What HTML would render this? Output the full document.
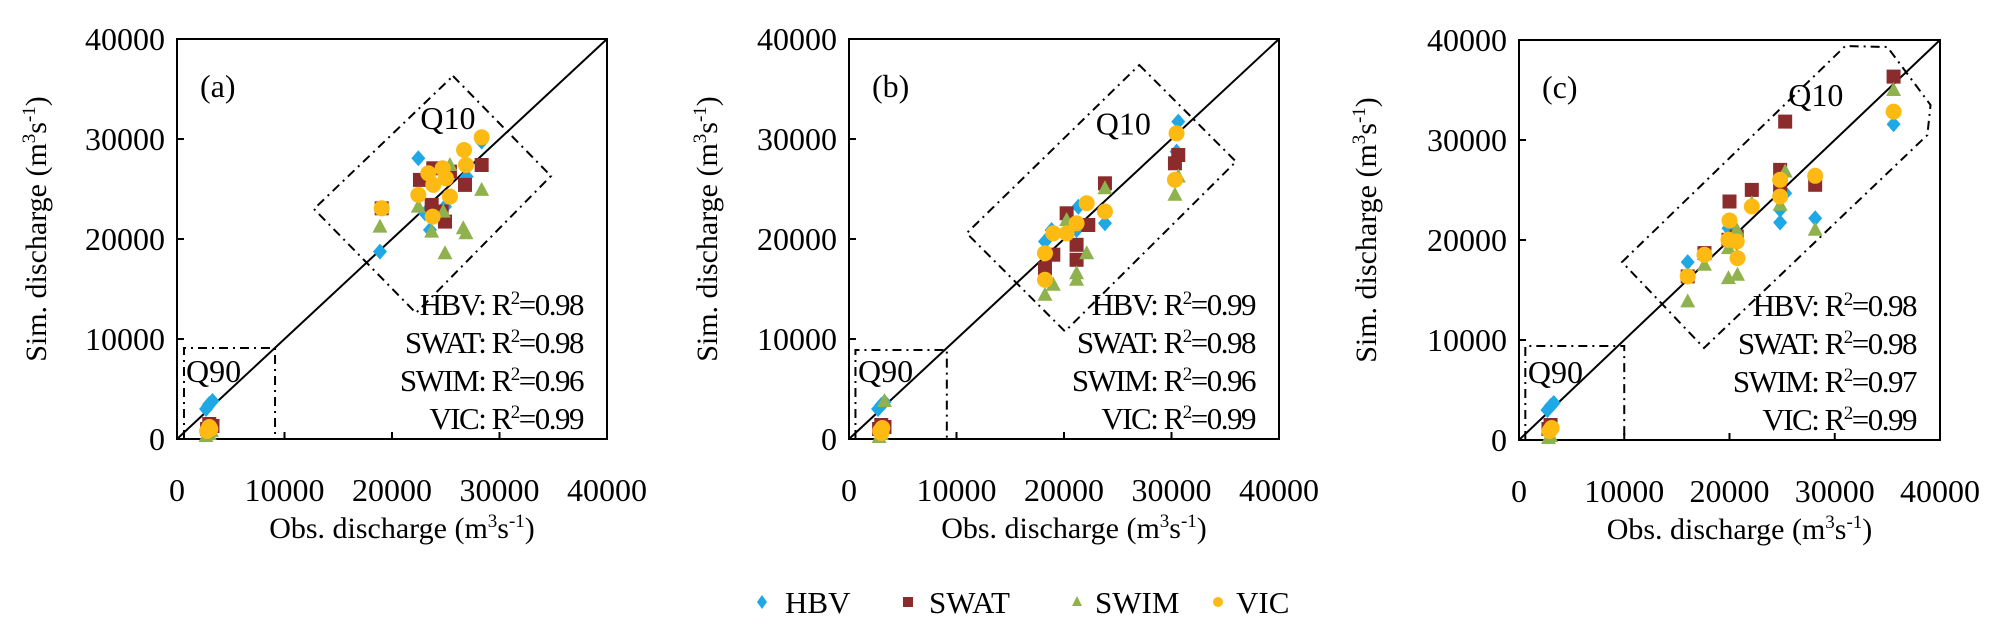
<!DOCTYPE html>
<html><head><meta charset="utf-8"><style>
html,body{margin:0;padding:0;background:#fff;}
svg{display:block;font-family:"Liberation Serif",serif;}
</style></head><body>
<svg id="fig" width="2005" height="634" viewBox="0 0 2005 634" xmlns="http://www.w3.org/2000/svg"></svg>
<script>
// ---- data ----
const axisTicks = [0, 10000, 20000, 30000, 40000];
const panelLetters = ["(a)", "(b)", "(c)"];
const r2HBV = ["0.98", "0.99", "0.98"];
const r2SWAT = ["0.98", "0.98", "0.98"];
const r2SWIM = ["0.96", "0.96", "0.97"];
const r2VIC = ["0.99", "0.99", "0.99"];

const hbvA = [[22450,28070],[28340,29740],[18880,18740],[26940,26240],[24930,23240],[23530,20910],[23070,22580],[2700,3000],[3000,3500],[3300,3800],[2900,3300]];
const swatA = [[19040,23070],[22600,25910],[23840,27070],[25390,26740],[26790,25410],[28340,27400],[23690,23410],[24930,21740],[24620,22740],[3000,1500],[2800,1000],[3300,1300]];
const swimA = [[18880,21240],[22450,23240],[23690,20740],[24770,22740],[24930,18580],[26630,21080],[26880,20580],[28340,24910],[25390,27400],[3000,500],[2700,300],[3200,800]];
const vicA = [[19040,23070],[22450,24410],[23380,26570],[24710,27070],[25020,26070],[23840,25410],[25390,24240],[23780,22240],[26700,28900],[28340,30170],[26880,27400],[2800,800],[3000,1200],[3100,1000]];

const hbvB = [[30630,31740],[30470,28740],[21330,23230],[23810,21570],[18230,19750],[18850,20900],[21170,20900],[2700,3000],[3000,3400],[3300,3700]];
const swatB = [[30630,28400],[30320,27570],[23810,25570],[20245,22570],[22260,21400],[21170,19420],[21170,17920],[19005,18430],[18230,17080],[3000,1400],[2800,1000],[3300,1200]];
const swimB = [[30630,26250],[30320,24420],[23810,25070],[20245,21900],[22110,18580],[21170,16580],[21170,15920],[19005,15420],[18230,14420],[3300,3800],[3000,500],[2800,200]];
const vicB = [[30470,30570],[30320,25920],[23810,22750],[22110,23580],[21170,21570],[20245,20570],[19005,20570],[18230,18580],[18230,15920],[2900,800],[3100,1100],[3000,600]];

const hbvC = [[35590,31580],[24810,23020],[24810,21750],[28140,22180],[19900,21180],[20690,19690],[16030,17790],[25290,24680],[2700,3000],[3000,3400],[3300,3700]];
const swatC = [[35590,36340],[25290,31840],[24810,27010],[24810,25350],[28140,25520],[22120,25010],[20000,23850],[20690,20350],[19900,20020],[17620,18690],[16030,16360],[3000,1500],[2800,1100]];
const swimC = [[35590,35000],[25290,26850],[24810,23520],[28140,21020],[22120,23680],[20690,21020],[19900,19190],[19900,16190],[20760,16520],[17620,17520],[16030,13860],[3000,400],[2800,200]];
const vicC = [[35590,32840],[24810,26020],[24810,24350],[28140,26420],[22120,23350],[20000,21950],[19900,20020],[20690,19850],[20760,18190],[17620,18520],[16030,16360],[2900,900],[3100,1200]];

const q10A = [[25674,36300],[34790,26300],[22230,12600],[12740,23000]];
const q10B = [[27000,37400],[36000,27740],[20090,10760],[10945,20580]];
const q10C = [[9790,17800],[31000,39400],[35000,39300],[39100,33500],[38800,30500],[17580,9200]];
const q90A = [650, 9120, 9100];
const q90B = [600, 9100, 8900];
const q90C = [600, 10000, 9400];
const q10LabelA = [25200, 32100];
const q10LabelB = [25515, 31570];
const q10LabelC = [28200, 34500];
const q90Label = [650, 6800];

// ---- drawing ----
const NS = "http://www.w3.org/2000/svg";
const svg = document.getElementById("fig");
const COL = {hbv:"#1ea8e6", swat:"#8b2b2b", swim:"#8fb24f", vic:"#fdba12"};
function mk(tag, attrs, parent){
  const e = document.createElementNS(NS, tag);
  for (const k in attrs) e.setAttribute(k, attrs[k]);
  (parent||svg).appendChild(e);
  return e;
}
const panels = [
  {x0:177, y0:39, w:430, h:400, hbv:hbvA, swat:swatA, swim:swimA, vic:vicA, q10:q10A, q90:q90A, q10L:q10LabelA, titleX:36},
  {x0:849, y0:39, w:430, h:400, hbv:hbvB, swat:swatB, swim:swimB, vic:vicB, q10:q10B, q90:q90B, q10L:q10LabelB, titleX:707},
  {x0:1519, y0:40, w:421, h:400, hbv:hbvC, swat:swatC, swim:swimC, vic:vicC, q10:q10C, q90:q90C, q10L:q10LabelC, titleX:1366}
];
function drawMarker(g, kind, cx, cy){
  let e;
  if (kind==="hbv"){
    e = mk("polygon",{points:`${cx},${cy-8} ${cx+7},${cy} ${cx},${cy+8} ${cx-7},${cy}`, fill:COL.hbv}, g);
  } else if (kind==="swat"){
    e = mk("rect",{x:cx-7, y:cy-7, width:14, height:14, fill:COL.swat}, g);
  } else if (kind==="swim"){
    e = mk("polygon",{points:`${cx},${cy-8} ${cx+7.5},${cy+6} ${cx-7.5},${cy+6}`, fill:COL.swim}, g);
  } else {
    e = mk("circle",{cx:cx, cy:cy, r:8, fill:COL.vic}, g);
  }
  return e;
}
panels.forEach((p, i) => {
  const sx = v => p.x0 + v/40000*p.w;
  const sy = v => p.y0 + p.h - v/40000*p.h;
  const g = mk("g", {});
  
  
  // frame
  const fr = mk("rect",{x:p.x0, y:p.y0, width:p.w, height:p.h, fill:"none", stroke:"#000", "stroke-width":2}, g);
  
  
  // ticks & labels
  axisTicks.forEach(t => {
    if (t>0 && t<40000){
      const ty = mk("line",{x1:p.x0, x2:p.x0+7, y1:sy(t), y2:sy(t), stroke:"#000","stroke-width":2}, g);
      
      
      const tx = mk("line",{x1:sx(t), x2:sx(t), y1:p.y0+p.h, y2:p.y0+p.h-7, stroke:"#000","stroke-width":2}, g);
      
      
    }
    const yl = mk("text",{x:p.x0-12, y:sy(t)+11, "text-anchor":"end", "font-size":32}, g);
    yl.textContent = String(t);
    
    
    const xl = mk("text",{x:sx(t), y:p.y0+p.h+62, "text-anchor":"middle", "font-size":32}, g);
    xl.textContent = String(t);
    
    
  });
  // 1:1 line
  const d = mk("line",{x1:sx(0), y1:sy(0), x2:sx(40000), y2:sy(40000), stroke:"#000","stroke-width":2}, g);
  
  
  // Q10 box
  const q = mk("polygon",{points:p.q10.map(v=>sx(v[0])+","+sy(v[1])).join(" "), fill:"none", stroke:"#000","stroke-width":2,"stroke-dasharray":"9 5 2 5"}, g);
  
  
  const ql = mk("text",{x:sx(p.q10L[0]), y:sy(p.q10L[1])+11, "text-anchor":"middle","font-size":32}, g);
  ql.textContent = "Q10";
  
  
  // Q90 box
  const q9 = mk("polyline",{points:`${sx(p.q90[0])},${sy(0)} ${sx(p.q90[0])},${sy(p.q90[2])} ${sx(p.q90[1])},${sy(p.q90[2])} ${sx(p.q90[1])},${sy(0)}`, fill:"none", stroke:"#000","stroke-width":2,"stroke-dasharray":"9 5 2 5"}, g);
  
  
  const q9l = mk("text",{x:sx(q90Label[0])+2, y:sy(q90Label[1])+11, "font-size":32}, g);
  q9l.textContent = "Q90";
  
  
  // points
  ["hbv","swat","swim","vic"].forEach(k => {
    p[k].forEach(pt => {
      const m = drawMarker(g, k, sx(pt[0]), sy(pt[1]));
      
      
    });
  });
  // panel letter
  const pl = mk("text",{x:p.x0+23, y:p.y0+58, "font-size":32}, g);
  pl.textContent = panelLetters[i];
  
  
  // R2 annotations
  const names = ["HBV","SWAT","SWIM","VIC"];
  const vals = [r2HBV[i], r2SWAT[i], r2SWIM[i], r2VIC[i]];
  names.forEach((n, j) => {
    const t = mk("text",{x:p.x0+p.w-24, y:p.y0+276+j*38, "text-anchor":"end","font-size":31,"letter-spacing":"-1.5"}, g);
    t.innerHTML = `${n}: R<tspan dy="-11" font-size="19">2</tspan><tspan dy="11">=${vals[j]}</tspan>`;
    
    
  });
  // axis titles
  const yt = mk("text",{x:0, y:0, "font-size":30, "text-anchor":"middle", transform:`translate(${p.titleX+10},${p.y0+p.h/2-10}) rotate(-90)`}, g);
  yt.innerHTML = `Sim. discharge (m<tspan dy="-11" font-size="19">3</tspan><tspan dy="11">s</tspan><tspan dy="-11" font-size="19">-1</tspan><tspan dy="11">)</tspan>`;
  
  
  const xt = mk("text",{x:p.x0+p.w/2+10, y:p.y0+p.h+99, "font-size":30, "text-anchor":"middle"}, g);
  xt.innerHTML = `Obs. discharge (m<tspan dy="-11" font-size="19">3</tspan><tspan dy="11">s</tspan><tspan dy="-11" font-size="19">-1</tspan><tspan dy="11">)</tspan>`;
  
  
});
// legend
const legend = mk("g", {});


const legItems = [["hbv","HBV",762,785],["swat","SWAT",908,929],["swim","SWIM",1077,1095],["vic","VIC",1218,1236]];
legItems.forEach(it => {
  const m = mk("g", {}, legend);
  
  
  let mk2;
  if (it[0]==="hbv") mk2 = mk("polygon",{points:"762,595 767,602 762,609 757,602", fill:COL.hbv}, m);
  else if (it[0]==="swat") mk2 = mk("rect",{x:903, y:597, width:10, height:10, fill:COL.swat}, m);
  else if (it[0]==="swim") mk2 = mk("polygon",{points:"1077,596 1082,606 1072,606", fill:COL.swim}, m);
  else mk2 = mk("circle",{cx:1218, cy:602, r:5, fill:COL.vic}, m);
  
  
  const t = mk("text",{x:it[3], y:613, "font-size":31}, m);
  t.textContent = it[1];
  
  
});
</script>
</body></html>
